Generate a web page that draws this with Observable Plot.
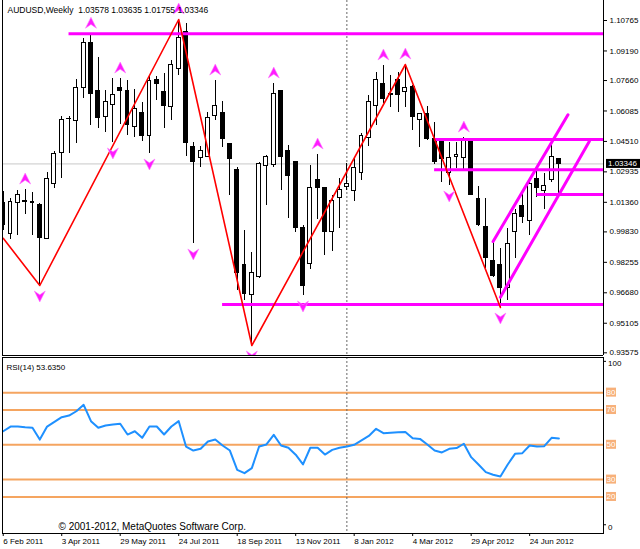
<!DOCTYPE html>
<html>
<head>
<meta charset="utf-8">
<script src="https://cdn.jsdelivr.net/npm/d3@7"></script>
<script src="https://cdn.jsdelivr.net/npm/@observablehq/plot@0.6"></script>
<style>
  html, body { margin: 0; padding: 0; background: #fff; }
  #chart { width: 640px; height: 549px; overflow: hidden; position: relative; }
  #chart svg { display: block; }
</style>
</head>
<body>
<div id="chart"></div>
<script>
// ---------------- data ----------------
const symbolName = "AUDUSD,Weekly";
const rsiName = "RSI(14)";
const copyright = "© 2001-2012, MetaQuotes Software Corp.";

const dateLabels = ["6 Feb 2011", "3 Apr 2011", "29 May 2011", "24 Jul 2011", "18 Sep 2011",
  "13 Nov 2011", "8 Jan 2012", "4 Mar 2012", "29 Apr 2012", "24 Jun 2012"];
const dateTickBars = [0, 8, 16, 24, 32, 40, 48, 56, 64, 72];

const opens = [1.01299, 0.99747, 1.01299, 1.01454, 1.01402, 1.01247, 0.99488, 1.02333, 1.03937, 1.05665,
  1.05592, 1.07299, 1.09576, 1.07144, 1.05748, 1.06420, 1.07248, 1.07144, 1.05282, 1.06006,
  1.04765, 1.07713, 1.07041, 1.06265, 1.08282, 1.10196, 1.04247, 1.03678, 1.03730, 1.05851,
  1.06006, 1.04351, 1.03006, 0.98092, 0.96540, 0.97471, 1.03213, 1.03265, 1.07093, 1.04040,
  1.03420, 1.00006, 0.98195, 1.02540, 1.02075, 0.99850, 1.01609, 1.02178, 1.01971, 1.02851,
  1.04713, 1.06368, 1.07506, 1.06886, 1.07662, 1.07041, 1.07351, 1.05644, 1.05903, 1.04610,
  1.04506, 1.02902, 1.03694, 1.03678, 1.04558, 1.01557, 1.00109, 0.98350, 0.98092, 0.96953,
  0.99850, 1.01144, 1.00419, 1.02592, 1.01971, 1.02489, 1.03578];
const highs = [1.01920, 1.01557, 1.01971, 1.02023, 1.01868, 1.01299, 1.02902, 1.03989, 1.05799, 1.05799,
  1.07713, 1.09834, 1.10080, 1.08851, 1.07144, 1.07765, 1.07765, 1.07662, 1.07196, 1.06524,
  1.07869, 1.07869, 1.08024, 1.08696, 1.10817, 1.10610, 1.04454, 1.04247, 1.06006, 1.07662,
  1.06575, 1.04403, 1.03161, 0.99902, 0.98764, 1.03420, 1.03782, 1.07506, 1.07144, 1.04299,
  1.03471, 1.00161, 1.03265, 1.03834, 1.02126, 1.01713, 1.02592, 1.03368, 1.03627, 1.04920,
  1.06886, 1.08075, 1.08438, 1.07920, 1.08075, 1.08489, 1.07403, 1.05955, 1.06317, 1.05489,
  1.04558, 1.04454, 1.04454, 1.04713, 1.04661, 1.02178, 1.01557, 0.99385, 0.98971, 1.00006,
  1.00988, 1.01971, 1.02489, 1.02954, 1.02851, 1.04454, 1.03635];
const lows = [0.99902, 0.99437, 0.99643, 1.00730, 0.99643, 0.97057, 0.99437, 1.02075, 1.02592, 1.03885,
  1.04403, 1.06730, 1.05334, 1.05179, 1.04972, 1.04454, 1.05385, 1.04816, 1.04713, 1.04506,
  1.03885, 1.06627, 1.05179, 1.05592, 1.07920, 1.03730, 0.99230, 1.03161, 1.03678, 1.05592,
  1.04196, 1.01713, 0.96798, 0.96281, 0.93953, 0.97419, 1.01195, 1.03161, 1.01971, 1.00523,
  0.99799, 0.96540, 0.97885, 1.00471, 0.98609, 0.98816, 1.00006, 1.01971, 1.01402, 1.02489,
  1.04247, 1.05334, 1.06472, 1.06265, 1.06006, 1.06265, 1.05075, 1.04196, 1.04558, 1.03316,
  1.02385, 1.02230, 1.03109, 1.03058, 1.01713, 1.00109, 0.97936, 0.97471, 0.95919, 0.96281,
  0.98454, 1.00264, 0.99643, 1.01609, 1.00988, 1.02385, 1.01755];
const closes = [1.00161, 1.01402, 1.01764, 1.01351, 1.01299, 0.99540, 1.02592, 1.03834, 1.05644, 1.05680,
  1.07299, 1.09627, 1.06989, 1.05696, 1.06575, 1.06886, 1.07144, 1.05385, 1.06213, 1.04816,
  1.07610, 1.07506, 1.06317, 1.08489, 1.09886, 1.04403, 1.03471, 1.04040, 1.05696, 1.06368,
  1.04661, 1.03575, 0.97729, 0.96643, 0.97678, 1.03368, 1.03730, 1.06989, 1.03730, 1.02696,
  1.00057, 0.97057, 1.02126, 1.02126, 0.99799, 1.01454, 1.02023, 1.02282, 1.03161, 1.04816,
  1.06524, 1.07662, 1.06730, 1.06989, 1.06937, 1.07299, 1.05748, 1.05903, 1.04610, 1.03420,
  1.03575, 1.03678, 1.03818, 1.04661, 1.01764, 1.00161, 0.98454, 0.97523, 0.96953, 0.99178,
  1.00730, 1.00626, 1.02333, 1.02075, 1.02230, 1.03730, 1.03346];

const rsiValues = [57.8, 60.5, 60.5, 60.1, 59.8, 53.0, 60.5, 63.2, 65.9, 66.8,
  69.3, 73.0, 63.6, 59.8, 61.1, 61.7, 62.1, 55.9, 57.8, 54.0,
  60.5, 60.5, 55.9, 60.5, 63.6, 49.0, 46.7, 47.7, 51.9, 53.0,
  49.6, 46.7, 35.6, 33.7, 36.6, 49.0, 50.2, 55.7, 49.6, 48.3,
  44.3, 38.7, 48.3, 48.3, 44.4, 47.1, 48.3, 49.0, 50.0, 52.5,
  55.1, 59.2, 56.7, 57.0, 57.2, 57.4, 53.8, 53.4, 50.2, 46.7,
  45.6, 47.7, 48.1, 50.6, 42.9, 38.7, 34.3, 32.8, 31.8, 38.7,
  44.8, 45.2, 49.6, 49.0, 49.2, 54.0, 53.635];

const priceTicks = [1.10765, 1.09190, 1.07660, 1.06085, 1.04510, 1.02935, 1.01360,
  0.99830, 0.98255, 0.96680, 0.95105, 0.93575];
const rsiLevels = [80, 70, 50, 30, 20];
const rsiScaleLabels = [100, 0];

const zigzagBars = [0, 5, 24, 34, 55, 68];
const zigzagPrices = [0.99500, 0.97057, 1.10817, 0.93953, 1.08489, 0.95919];

const levelPrices = [1.10080, 0.96070, 1.04610, 1.03040, 1.01760];
const levelStartBars = [9, 30, 59, 59, 73];

const channelIds = ["upper", "upper", "lower", "lower"];
const channelBars = [67, 77.24, 68, 80.17];
const channelPrices = [0.99333, 1.05887, 0.96452, 1.04522];

const upFractalBars = [3, 12, 16, 24, 29, 37, 43, 52, 55, 63];
const downFractalBars = [5, 15, 20, 26, 34, 41, 61, 68];

const separatorBars = [47];

// ---------------- build ----------------
const FONT = "'Liberation Sans', Arial, sans-serif";
const xDomain = [-0.1, 82.1];
const priceDomain = [0.93436, 1.118];
const rsiDomain = [-1, 100.2];

const candles = opens.map((o, i) => ({i, open: o, high: highs[i], low: lows[i], close: closes[i]}));
const bulls = candles.filter(d => d.close >= d.open);
const bears = candles.filter(d => d.close < d.open);
const zigzag = zigzagBars.map((b, k) => ({b, p: zigzagPrices[k]}));
const levels = levelPrices.map((p, k) => ({p, s: levelStartBars[k]}));
const channel = channelBars.map((b, k) => ({b, p: channelPrices[k], id: channelIds[k]}));
const rsiData = rsiValues.map((v, i) => ({i, v}));
const last = candles[candles.length - 1];

const fmt5 = d => d.toFixed(5);
const title = `${symbolName}\u00a0\u00a0${fmt5(last.open)} ${fmt5(last.high)} ${fmt5(last.low)} ${fmt5(last.close)}`;

const arrowUp = {
  draw(ctx, size) {
    const r = Math.sqrt(size / Math.PI);
    ctx.moveTo(0, -r); ctx.lineTo(r, r); ctx.lineTo(0, r * 0.3); ctx.lineTo(-r, r); ctx.closePath();
  }
};
const arrowDown = {
  draw(ctx, size) {
    const r = Math.sqrt(size / Math.PI);
    ctx.moveTo(0, r); ctx.lineTo(r, -r); ctx.lineTo(0, -r * 0.3); ctx.lineTo(-r, -r); ctx.closePath();
  }
};

const main = Plot.plot({
  width: 640, height: 356,
  marginLeft: 2, marginRight: 37, marginTop: 0, marginBottom: 1,
  style: {fontFamily: FONT, fontSize: "8px", background: "white", color: "black"},
  x: {domain: xDomain, axis: null, label: null},
  y: {domain: priceDomain, axis: null, label: null},
  marks: [
    Plot.ruleY([last.close], {stroke: "#c8c8c8"}),
    Plot.ruleX(separatorBars, {stroke: "#666", strokeDasharray: "2,2"}),
    Plot.ruleX(candles, {x: "i", y1: "low", y2: "high", stroke: "#000", shapeRendering: "crispEdges", clip: true}),
    Plot.rect(bulls, {x1: d => d.i - 0.5, x2: d => d.i + 0.5, y1: "open", y2: "close",
      insetLeft: 1.7, insetRight: 1.7, fill: "#fff", stroke: "#000", shapeRendering: "crispEdges", clip: true}),
    Plot.rect(bears, {x1: d => d.i - 0.5, x2: d => d.i + 0.5, y1: "open", y2: "close",
      insetLeft: 1.7, insetRight: 1.7, fill: "#000", stroke: "#000", shapeRendering: "crispEdges", clip: true}),
    Plot.ruleY(levels, {y: "p", x1: "s", x2: () => xDomain[1], stroke: "#ff00ff", strokeWidth: 3}),
    Plot.line(zigzag, {x: "b", y: "p", stroke: "#ff0000", strokeWidth: 1.6, clip: true}),
    Plot.line(channel, {x: "b", y: "p", z: "id", stroke: "#ff00ff", strokeWidth: 3, clip: true}),
    Plot.dot(upFractalBars, {x: d => d, y: d => highs[d], dy: -11, r: 5.5, symbol: arrowUp,
      fill: "#ff1aff", stroke: "#ff80ff", strokeWidth: 0.6, clip: true}),
    Plot.dot(downFractalBars, {x: d => d, y: d => lows[d], dy: 11, r: 5.5, symbol: arrowDown,
      fill: "#ff1aff", stroke: "#ff80ff", strokeWidth: 0.6, clip: true}),
    Plot.axisY({anchor: "right", ticks: priceTicks, tickFormat: fmt5, tickSize: 3, tickPadding: 3, label: null}),
    Plot.ruleX(xDomain, {stroke: "#000"}),
    Plot.ruleY([priceDomain[0]], {stroke: "#000"}),
    Plot.text([title], {frameAnchor: "top-left", dx: 5, dy: 10, lineAnchor: "middle", textAnchor: "start", fontSize: 8.5})
  ]
});

const rsiChart = Plot.plot({
  width: 640, height: 193,
  marginLeft: 2, marginRight: 37, marginTop: 1, marginBottom: 16,
  style: {fontFamily: FONT, fontSize: "8px", background: "white", color: "black"},
  x: {domain: xDomain, axis: null, label: null},
  y: {domain: rsiDomain, axis: null, label: null},
  marks: [
    Plot.ruleY(rsiLevels, {stroke: "#f5a560", strokeWidth: 2}),
    Plot.ruleX(separatorBars, {stroke: "#666", strokeDasharray: "2,2"}),
    Plot.line(rsiData, {x: "i", y: "v", stroke: "#1e90ff", strokeWidth: 2}),
    Plot.frame({stroke: "#000"}),
    Plot.axisX({anchor: "bottom", ticks: dateTickBars, tickFormat: d => dateLabels[dateTickBars.indexOf(d)],
      textAnchor: "start", tickSize: 3, tickPadding: 2, label: null}),
    Plot.text([`${rsiName} ${rsiValues[rsiValues.length - 1].toFixed(4)}`],
      {frameAnchor: "top-left", dx: 4, dy: 10, lineAnchor: "middle", textAnchor: "start"}),
    Plot.text([copyright], {frameAnchor: "bottom-left", dx: 56, dy: -7, lineAnchor: "middle", textAnchor: "start", fontSize: 10})
  ]
});

// price-scale annotations drawn with the charts' own scales
{
  const ys = main.scale("y");
  const yb = ys.apply(last.close);
  const g = d3.select(main).append("g").attr("font-family", FONT).attr("font-size", 8).attr("text-anchor", "start");
  g.append("rect").attr("x", 606).attr("y", yb - 4.5).attr("width", 34).attr("height", 9).attr("fill", "#000");
  g.append("text").attr("x", 608).attr("y", yb).attr("dy", "0.35em").attr("fill", "#fff").text(fmt5(last.close));
}
{
  const ry = rsiChart.scale("y");
  const g = d3.select(rsiChart).append("g").attr("font-family", FONT).attr("font-size", 8).attr("text-anchor", "start");
  rsiLevels.forEach(v => {
    const y = ry.apply(v);
    g.append("rect").attr("x", 606).attr("y", y - 4.5).attr("width", 10).attr("height", 9).attr("fill", "#f7b07a");
    g.append("text").attr("x", 606.5).attr("y", y).attr("dy", "0.35em").attr("fill", "#fff").text(v);
  });
  rsiScaleLabels.forEach(v => {
    const y = ry.apply(v) + (v === 100 ? 6 : -4.5);
    g.append("line").attr("x1", 603).attr("x2", 606).attr("y1", y - 2).attr("y2", y - 2).attr("stroke", "#000");
    g.append("text").attr("x", 608).attr("y", y).attr("dy", "0.35em").attr("fill", "#000").text(v);
  });
}

const host = document.getElementById("chart");
host.appendChild(main);
host.appendChild(rsiChart);
</script>
</body>
</html>
